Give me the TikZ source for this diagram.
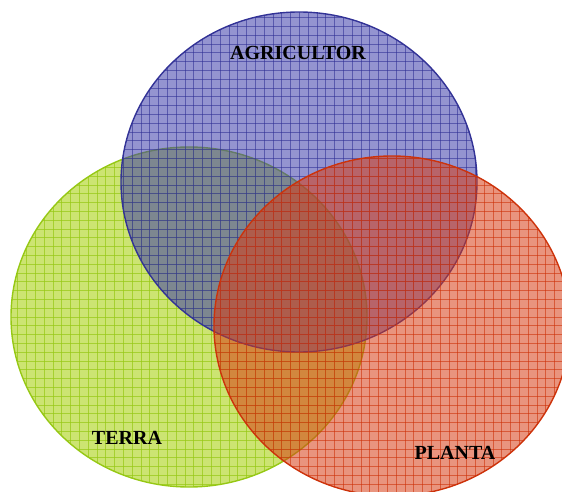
\documentclass[tikz,border=0pt]{standalone}
\usepackage{fontspec}
\setmainfont{Liberation Serif}
\definecolor{terrafill}{RGB}{170,210,20}
\definecolor{terraline}{RGB}{150,200,20}
\definecolor{agrifill}{RGB}{60,60,170}
\definecolor{agriline}{RGB}{50,50,150}
\definecolor{plantafill}{RGB}{215,60,20}
\definecolor{plantaline}{RGB}{205,50,10}
\newcommand{\squaregrid}{%
  \foreach \gx in {0,8.8,...,562} \draw (\gx,0)--(\gx,492);
  \foreach \gy in {0,8.8,...,492} \draw (0,\gy)--(562,\gy);}
\begin{document}
\begin{tikzpicture}[x=1pt,y=-1pt,
  lbl/.style={font=\fontsize{20}{23}\selectfont\bfseries},
  gridlines/.style={line width=.6pt}]
\useasboundingbox (0,0) rectangle (562,492);
% terra
\begin{scope}
\clip (189,317) ellipse [x radius=178, y radius=170];
\fill[terrafill, opacity=.6] (0,0) rectangle (562,492);
\begin{scope}[gridlines, terraline, opacity=.7]\squaregrid\end{scope}
\end{scope}
\draw[terraline, line width=1.4pt] (189,317) ellipse [x radius=178, y radius=170];
% agricultor
\begin{scope}
\clip (299,182) ellipse [x radius=178, y radius=170];
\fill[agrifill, opacity=.55] (0,0) rectangle (562,492);
\begin{scope}[gridlines, agriline, opacity=.6]\squaregrid\end{scope}
\end{scope}
\draw[agriline, line width=1.4pt] (299,182) ellipse [x radius=178, y radius=170];
% planta
\begin{scope}
\clip (392,326) ellipse [x radius=178, y radius=170];
\fill[plantafill, opacity=.55] (0,0) rectangle (562,492);
\begin{scope}[gridlines, plantaline, opacity=.6]\squaregrid\end{scope}
\end{scope}
\draw[plantaline, line width=1.4pt] (392,326) ellipse [x radius=178, y radius=170];

\node[lbl] (agri) at (298,53) {AGRICULTOR};
\node[lbl] (terra) at (127,438) {TERRA};
\node[lbl] (planta) at (455,453) {PLANTA};
\end{tikzpicture}
\end{document}
